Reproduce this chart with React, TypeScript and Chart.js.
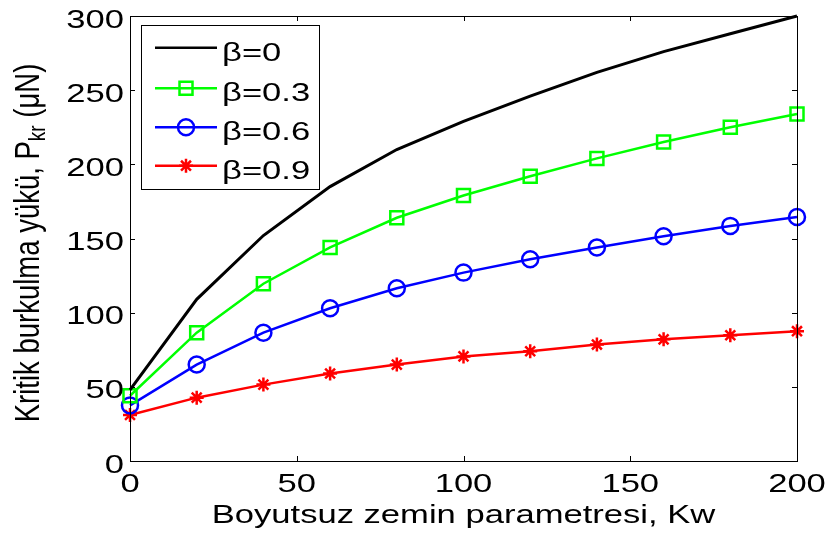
import React, { useEffect, useRef } from 'react';
import { Chart, registerables } from 'chart.js';

Chart.register(...registerables);

// ---- data ----
const kw = [0, 20, 40, 60, 80, 100, 120, 140, 160, 180, 200];
const beta0 = [48, 109, 152, 185, 210, 229, 246, 262, 276, 288, 300];
const beta03 = [44, 86.5, 119.5, 144, 164, 179, 192, 204, 215, 225, 234];
const beta06 = [37.5, 65, 86.5, 103, 116.5, 127, 136, 144, 151.5, 158.5, 164.5];
const beta09 = [31, 42.7, 51.5, 59, 65, 70.5, 74, 78.5, 82, 84.8, 87.5];
const seriesLabels = ['β=0', 'β=0.3', 'β=0.6', 'β=0.9'];
const xTitle = 'Boyutsuz zemin parametresi, Kw';
const yTitleMain = 'Kritik burkulma yükü, P';
const yTitleSub = 'kr';
const yTitleTail = ' (μN)';

const FONT = '"Liberation Sans", Arial, sans-serif';
const SX = 1.33; // horizontal text stretch of the original figure
const SY_TITLE = 1.25;

const colors = ['#000000', '#00ff00', '#0000ff', '#ff0000'];
const styles = ['none', 'rect', 'circle', 'star'];

function stretchedText(ctx: CanvasRenderingContext2D, text: string, x: number, y: number, align: CanvasTextAlign) {
  ctx.save();
  ctx.translate(x, y);
  ctx.scale(SX, 1);
  ctx.textAlign = align;
  ctx.textBaseline = 'alphabetic';
  ctx.fillText(text, 0, 0);
  ctx.restore();
}

function drawMarker(ctx: CanvasRenderingContext2D, style: string, x: number, y: number, color: string) {
  ctx.save();
  ctx.strokeStyle = color;
  ctx.lineWidth = 2.5;
  ctx.beginPath();
  if (style === 'rect') {
    const s = 6.5;
    ctx.rect(x - s, y - s, 2 * s, 2 * s);
  } else if (style === 'circle') {
    ctx.arc(x, y, 8, 0, Math.PI * 2);
  } else if (style === 'star') {
    const r = 7;
    for (let i = 0; i < 4; i++) {
      const a = (i * Math.PI) / 4;
      ctx.moveTo(x - r * Math.cos(a), y - r * Math.sin(a));
      ctx.lineTo(x + r * Math.cos(a), y + r * Math.sin(a));
    }
  }
  ctx.stroke();
  ctx.restore();
}

const matlabPlugin = {
  id: 'matlabAxes',
  afterDraw(chart: any) {
    const { ctx, chartArea: a, scales } = chart;
    const xs = scales.x;
    const ys = scales.y;
    ctx.save();
    ctx.strokeStyle = '#000';
    ctx.fillStyle = '#000';
    ctx.lineWidth = 1;
    // box
    ctx.strokeRect(a.left + 0.5, a.top + 0.5, a.right - a.left, a.bottom - a.top);
    ctx.font = `26px ${FONT}`;
    // ticks (inward, all four sides)
    ctx.beginPath();
    for (const t of xs.ticks) {
      const px = Math.round(xs.getPixelForValue(t.value)) + 0.5;
      ctx.moveTo(px, a.bottom);
      ctx.lineTo(px, a.bottom - 5);
      ctx.moveTo(px, a.top);
      ctx.lineTo(px, a.top + 5);
    }
    for (const t of ys.ticks) {
      const py = Math.round(ys.getPixelForValue(t.value)) + 0.5;
      ctx.moveTo(a.left, py);
      ctx.lineTo(a.left + 5, py);
      ctx.moveTo(a.right, py);
      ctx.lineTo(a.right - 5, py);
    }
    ctx.stroke();
    for (const t of xs.ticks) {
      const px = xs.getPixelForValue(t.value);
      stretchedText(ctx, String(t.label), px, a.bottom + 31, 'center');
    }
    for (const t of ys.ticks) {
      const py = ys.getPixelForValue(t.value);
      stretchedText(ctx, String(t.label), a.left - 6, py + 11.5, 'right');
    }
    // x title
    stretchedText(ctx, xTitle, (a.left + a.right) / 2, 523, 'center');
    // y title (rotated, with subscript)
    ctx.save();
    ctx.translate(39, 243);
    ctx.rotate(-Math.PI / 2);
    ctx.scale(1, SY_TITLE);
    ctx.textBaseline = 'alphabetic';
    ctx.textAlign = 'left';
    const mainFont = `27.5px ${FONT}`;
    const subFont = `19px ${FONT}`;
    ctx.font = mainFont;
    const w1 = ctx.measureText(yTitleMain).width;
    const w3 = ctx.measureText(yTitleTail).width;
    ctx.font = subFont;
    const w2 = ctx.measureText(yTitleSub).width;
    const x0 = -(w1 + w2 + w3) / 2;
    ctx.font = mainFont;
    ctx.fillText(yTitleMain, x0, 0);
    ctx.font = subFont;
    ctx.fillText(yTitleSub, x0 + w1, 5);
    ctx.font = mainFont;
    ctx.fillText(yTitleTail, x0 + w1 + w2, 0);
    ctx.restore();

    // legend
    const lx = 141.5, ly = 25.5, lw = 178, lh = 164;
    ctx.fillStyle = '#fff';
    ctx.fillRect(lx, ly, lw, lh);
    ctx.strokeStyle = '#000';
    ctx.lineWidth = 1;
    ctx.strokeRect(lx, ly, lw, lh);
    const rows = [47.7, 88.3, 127.3, 165.7];
    chart.data.datasets.forEach((ds: any, i: number) => {
      const yy = rows[i];
      ctx.strokeStyle = colors[i];
      ctx.lineWidth = 2.5;
      ctx.beginPath();
      ctx.moveTo(155, yy);
      ctx.lineTo(217, yy);
      ctx.stroke();
      drawMarker(ctx, styles[i], 186, yy, colors[i]);
      ctx.fillStyle = '#000';
      ctx.font = `26px ${FONT}`;
      stretchedText(ctx, ds.label, 222, yy + 12.8, 'left');
    });
    ctx.restore();
  },
};

function toPts(vals: number[]) {
  return kw.map((k, i) => ({ x: k, y: vals[i] }));
}

export default function App() {
  const ref = useRef<HTMLCanvasElement | null>(null);
  useEffect(() => {
    if (!ref.current) return;
    const series = [beta0, beta03, beta06, beta09];
    const radii = [0, 9.2, 8, 7];
    const chart = new Chart(ref.current, {
      type: 'line',
      data: {
        datasets: series.map((vals, i) => ({
          label: seriesLabels[i],
          data: toPts(vals),
          borderColor: colors[i],
          borderWidth: i === 0 ? 3 : 2.5,
          pointStyle: i === 0 ? false : (styles[i] as any),
          pointRadius: radii[i],
          pointBorderWidth: 2.5,
          pointBorderColor: colors[i],
          pointBackgroundColor: 'rgba(0,0,0,0)',
          tension: 0,
          clip: false as any,
        })),
      },
      options: {
        responsive: false,
        animation: false,
        events: [],
        layout: { padding: { left: 130, top: 16, right: 29, bottom: 72 } },
        plugins: { legend: { display: false }, tooltip: { enabled: false } },
        scales: {
          x: {
            type: 'linear',
            min: 0,
            max: 200,
            ticks: { display: false, stepSize: 50 },
            grid: { display: false },
            border: { display: false },
            afterFit: (s: any) => { s.height = 0; },
          },
          y: {
            type: 'linear',
            min: 0,
            max: 300,
            ticks: { display: false, stepSize: 50 },
            grid: { display: false },
            border: { display: false },
            afterFit: (s: any) => { s.width = 0; },
          },
        },
      },
      plugins: [matlabPlugin],
    });
    return () => chart.destroy();
  }, []);
  return (
    <div style={{ position: 'fixed', left: 0, top: 0, width: 826, height: 533, background: '#fff' }}>
      <canvas ref={ref} width={826} height={533} style={{ display: 'block' }} />
    </div>
  );
}
